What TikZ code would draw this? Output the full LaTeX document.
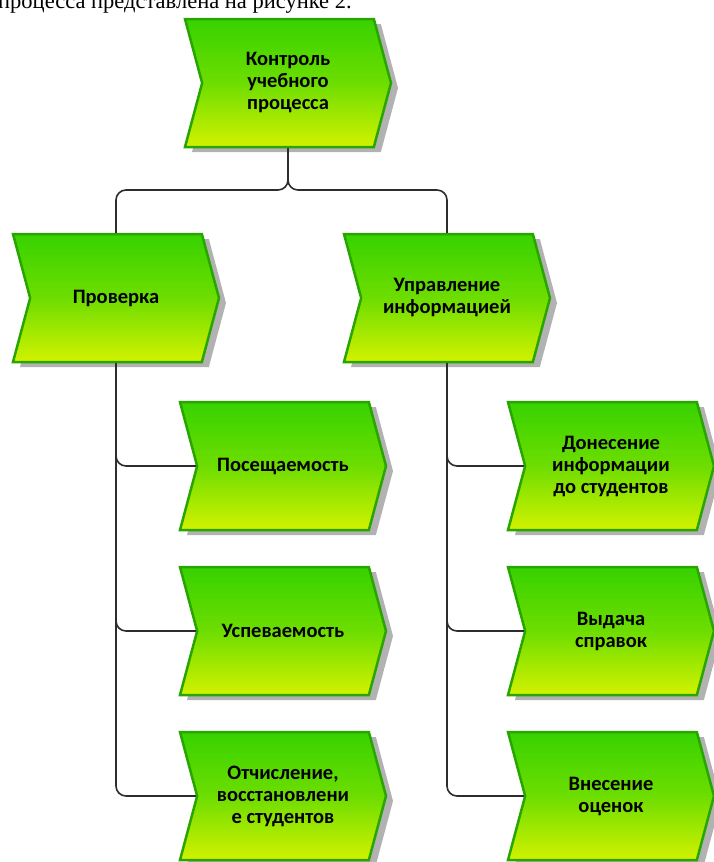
\documentclass[tikz,border=0pt]{standalone}
\usepackage{fontspec}
\setmainfont{Carlito}
\newfontfamily\pagefont{Liberation Serif}
\usetikzlibrary{shapes.symbols,shadows}
\definecolor{funcgreen}{RGB}{55,210,0}
\definecolor{funcyellow}{RGB}{210,242,0}
\definecolor{funcedge}{RGB}{40,165,0}
\definecolor{wirecol}{RGB}{45,45,45}
\tikzset{
  func/.style={signal, signal from=west, signal to=east, signal pointer angle=150,
    minimum width=206pt, minimum height=128pt, inner sep=2pt,
    top color=funcgreen, bottom color=funcyellow, middle color=funcgreen!65!funcyellow,
    draw=funcedge, line width=2.5pt, align=center,
    font=\fontsize{20.5}{22}\selectfont\bfseries,
    drop shadow={shadow xshift=7pt, shadow yshift=-5pt, fill=black!30, opacity=1}},
  wire/.style={draw=wirecol, line width=1.6pt, rounded corners=10pt}
}
\begin{document}
\begin{tikzpicture}[x=1pt,y=-1pt]
\useasboundingbox (0,0) rectangle (713,862);
% caption line cut by the page top
\node[anchor=base west, inner sep=0pt, font=\pagefont\fontsize{22.5}{26}\selectfont] (caption) at (-2,9) {процесса представлена на рисунке 2.};

% functions
\node[func] (control) at (288,83) {Контроль\\учебного\\процесса};
\node[func] (check) at (116,298) {Проверка};
\node[func] (info) at (447,298) {Управление\\информацией};

\node[func] (visits) at (283,466) {Посещаемость};
\node[func] (marks) at (283,631) {Успеваемость};
\node[func] (expel) at (283,796) {Отчисление,\\восстановлени\\е студентов};

\node[func] (notify) at (611,466) {Донесение\\информации\\до студентов};
\node[func] (papers) at (611,631) {Выдача\\справок};
\node[func] (grades) at (611,796) {Внесение\\оценок};

% connectors
\coordinate (fork) at (288,190);
\draw[wire] (control.south) -- (fork) -| (check.north);
\draw[wire] (control.south) -- (fork) -| (info.north);

\draw[wire] (check.south) |- (visits.west);
\draw[wire] (check.south) |- (marks.west);
\draw[wire] (check.south) |- (expel.west);

\draw[wire] (info.south) |- (notify.west);
\draw[wire] (info.south) |- (papers.west);
\draw[wire] (info.south) |- (grades.west);
\end{tikzpicture}
\end{document}
